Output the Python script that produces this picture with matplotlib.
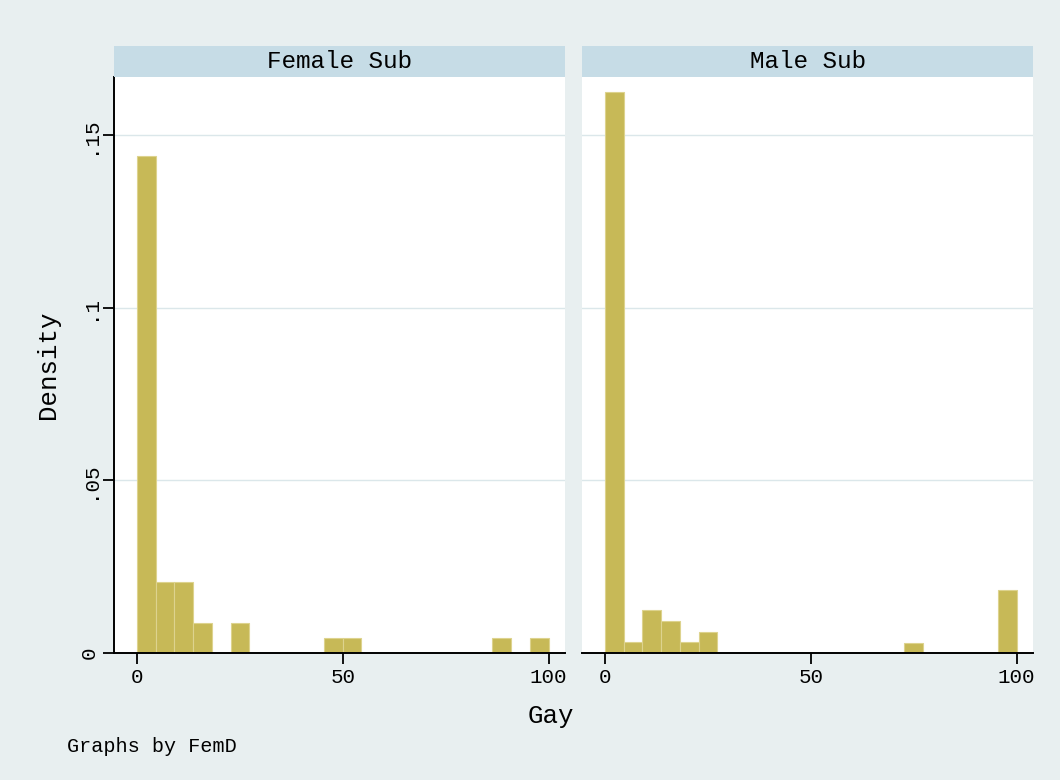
import numpy as np
import matplotlib
matplotlib.use("Agg")
import matplotlib.pyplot as plt

plt.rcParams['font.family'] = ['Liberation Mono', 'DejaVu Sans Mono']

# histogram of Gay by FemD, 22 bins over 0..100, density scale
panels = ["Female Sub", "Male Sub"]
bin_width = 100 / 22
female_density = [0.1439, 0.0206, 0.0206, 0.0086, 0, 0.0086, 0, 0, 0, 0, 0.0042,
                  0.0042, 0, 0, 0, 0, 0, 0, 0, 0.0042, 0, 0.0042]
male_density = [0.1624, 0.0031, 0.0124, 0.0092, 0.0031, 0.0061, 0, 0, 0, 0, 0,
                0, 0, 0, 0, 0, 0.0030, 0, 0, 0, 0, 0.0181]
yticks = [0, 0.05, 0.1, 0.15]
ytick_labels = ["0", ".05", ".1", ".15"]
xticks = [0, 50, 100]

bg = '#e8eff0'
strip_col = '#c6dce6'
bar_col = '#c7b957'
grid_col = '#dbe7ea'

W, H = 1060, 780
fig = plt.figure(figsize=(W / 100, H / 100), dpi=100, facecolor=bg)

def px(x0, y0, x1, y1):
    return [x0 / W, 1 - y1 / H, (x1 - x0) / W, (y1 - y0) / H]

lefts = [(114, 565), (582, 1033)]
top, bottom = 77, 653
strip_top = 46

for i, (name, dens) in enumerate(zip(panels, [female_density, male_density])):
    x0, x1 = lefts[i]
    ax = fig.add_axes(px(x0, top, x1, bottom))
    ax.set_facecolor('white')
    edges = np.arange(len(dens)) * bin_width
    ax.bar(edges, dens, width=bin_width, align='edge', color=bar_col,
           edgecolor='#ddd38e', linewidth=0.8, zorder=2)
    ax.set_xlim(-5.6, 104)
    ax.set_ylim(0, 0.1668)
    for yv in yticks[1:]:
        ax.axhline(yv, color=grid_col, lw=1.0, zorder=1)
    for s in ['top', 'right']:
        ax.spines[s].set_visible(False)
    ax.spines['bottom'].set_linewidth(1.4)
    ax.set_xticks(xticks)
    ax.set_xticklabels([str(t) for t in xticks], fontsize=15)
    ax.tick_params(axis='x', length=8, width=1.3, pad=3)
    if i == 0:
        ax.spines['left'].set_linewidth(1.4)
        ax.set_yticks(yticks)
        ax.set_yticklabels(ytick_labels, rotation=90, va='center', fontsize=15)
        ax.tick_params(axis='y', length=8, width=1.3, pad=3)
    else:
        ax.spines['left'].set_visible(False)
        ax.set_yticks([])

    # panel header strip
    sx = fig.add_axes(px(x0, strip_top, x1, top))
    sx.set_facecolor(strip_col)
    sx.set_xticks([])
    sx.set_yticks([])
    for s in sx.spines.values():
        s.set_visible(False)
    sx.text(0.5, 0.5, name, ha='center', va='center', fontsize=17.5,
            transform=sx.transAxes)

fig.text(48 / W, 1 - 365 / H, "Density", rotation=90, ha='center', va='center',
         fontsize=18.5)
fig.text(551 / W, 1 - 716 / H, "Gay", ha='center', va='center', fontsize=18.5)
fig.text(67 / W, 1 - 746 / H, "Graphs by FemD", ha='left', va='center',
         fontsize=14.5)

fig.savefig("out.png", dpi=100, facecolor=bg)
